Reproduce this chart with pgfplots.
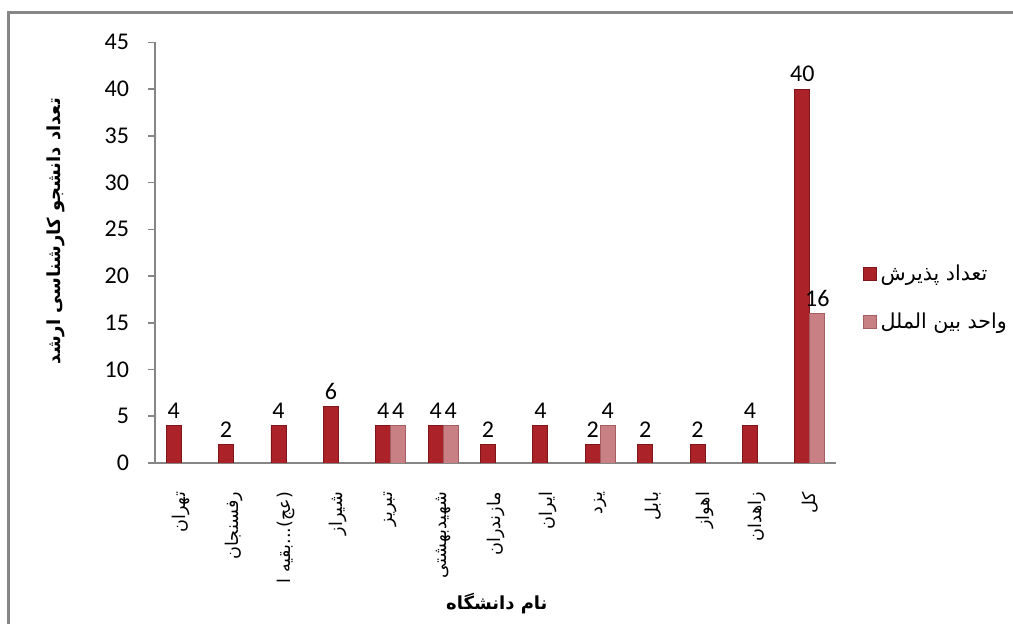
\documentclass[border=0pt]{standalone}
\usepackage{fontspec}
\setmainfont{Carlito}
\newfontfamily\fa[Script=Arabic]{DejaVu Sans}
\TeXXeTstate=1
\usepackage{pgfplots}
\pgfplotsset{compat=1.18}
\definecolor{axisgray}{HTML}{868686}
\definecolor{dred}{HTML}{AB2328}
\definecolor{dredd}{HTML}{7E1518}
\definecolor{pinkm}{HTML}{C98084}
\definecolor{pinkd}{HTML}{A25E61}
\newcommand{\baq}{\fa\beginR (عج)...بقیه ا\endR}
\begin{document}
\begin{tikzpicture}[x=1pt,y=1pt]
\path[use as bounding box] (0,0) rectangle (506.5,312);
\begin{axis}[
  at={(77.5pt,80.5pt)}, anchor=south west,
  scale only axis, width=340.5pt, height=210.35pt,
  ybar, bar width=7.5pt,
  xmin=-0.5, xmax=12.5, ymin=0, ymax=45,
  xtick={0,1,2,3,4,5,6,7,8,9,10,11,12},
  xticklabels={{\fa\beginR تهران\endR},{\fa\beginR رفسنجان\endR},{\baq},{\fa\beginR شیراز\endR},{\fa\beginR تبریز\endR},{\fa\beginR شهیدبهشتی\endR},{\fa\beginR مازندران\endR},{\fa\beginR ایران\endR},{\fa\beginR یزد\endR},{\fa\beginR بابل\endR},{\fa\beginR اهواز\endR},{\fa\beginR زاهدان\endR},{\fa\beginR کل\endR}},
  ytick={0,5,10,15,20,25,30,35,40,45},
  axis x line*=bottom, axis y line*=left,
  axis line style={axisgray, line width=0.75pt},
  xtick style={draw=none},
  tick align=outside, major tick length=3.5pt,
  ytick style={axisgray, line width=0.75pt},
  /pgf/number format/assume math mode=true,
  yticklabel style={font=\fontsize{12}{14}\selectfont, xshift=-6pt},
  xticklabel style={rotate=90, anchor=east, xshift=-7.5pt, font=\fa\fontsize{8.8}{10}\selectfont},
  nodes near coords,
  every node near coord/.append style={font=\fontsize{12}{14}\selectfont, text=black},
  ylabel={\fa\bfseries\beginR تعداد دانشجو کارشناسی ارشد\endR},
  ylabel style={at={(axis description cs:-0.1454,0.551)}, anchor=center, font=\fontsize{9}{11}\selectfont},
  xlabel={\fa\bfseries\beginR نام دانشگاه\endR},
  xlabel style={at={(axis description cs:0.502,-0.335)}, anchor=center, font=\fontsize{9}{11}\selectfont},
  legend style={at={(1.030,0.492)}, anchor=north west, draw=none, fill=none,
    font=\fa\fontsize{10.3}{12}\selectfont, row sep=11pt, legend cell align=left},
]
\addplot[fill=dred, draw=dredd, line width=0.4pt, bar shift=-3.75pt,
  legend image code/.code={\path[fill=dred, draw=dredd, line width=0.4pt] (0pt,-3.25pt) rectangle (6.5pt,3.25pt);}]
  coordinates {(0,4) (1,2) (2,4) (3,6) (4,4) (5,4) (6,2) (7,4) (8,2) (9,2) (10,2) (11,4) (12,40)};
\addlegendentry{\fa\beginR تعداد پذیرش\endR}
\addplot[fill=pinkm, draw=pinkd, line width=0.4pt, bar shift=3.75pt,
  legend image code/.code={\path[fill=pinkm, draw=pinkd, line width=0.4pt] (0pt,-3.25pt) rectangle (6.5pt,3.25pt);}]
  coordinates {(4,4) (5,4) (8,4) (12,16)};
\addlegendentry{\fa\beginR واحد بین الملل\endR}
\end{axis}
\draw[axisgray, line width=1.2pt] (4.2,-10) -- (4.2,305.8) -- (520,305.8);
\end{tikzpicture}
\end{document}
